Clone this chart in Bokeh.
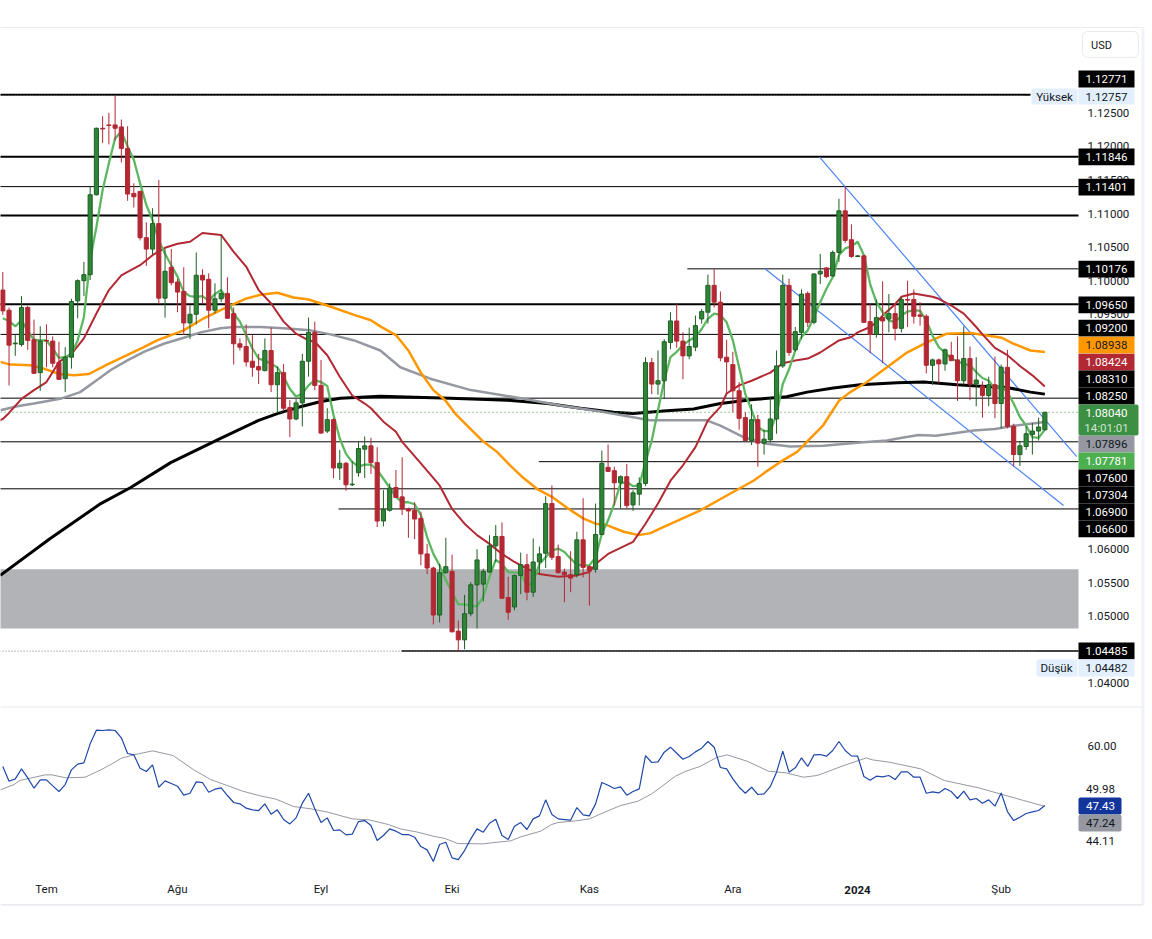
from bokeh.plotting import figure
from bokeh.layouts import column
from bokeh.models import (Range1d, FixedTicker, LinearAxis, Label, BoxAnnotation,
                          ColumnDataSource, NumeralTickFormatter)
from bokeh.embed import file_html
from bokeh.resources import INLINE

opens = [
1.0986,1.0956,1.0906,1.0905,1.0960,1.0912,1.0863,1.0911,1.0910,1.0878,
1.0854,1.0886,1.0970,1.1000,1.1009,1.1128,1.1227,1.1232,1.1232,1.1229,
1.1197,1.1130,1.1133,1.1064,1.1047,1.1085,1.0974,1.1020,1.0998,1.0984,
1.0937,1.0950,1.1008,1.1002,1.0956,1.0973,1.0981,1.0951,1.0906,1.0902,
1.0880,1.0872,1.0866,1.0896,1.0845,1.0863,1.0811,1.0794,1.0818,1.0880,
1.0923,1.0844,1.0776,1.0793,1.0721,1.0728,1.0696,1.0714,1.0749,1.0754,
1.0729,1.0642,1.0658,1.0692,1.0678,1.0660,1.0658,1.0646,1.0593,1.0572,
1.0502,1.0565,1.0567,1.0478,1.0465,1.0504,1.0547,1.0548,1.0566,1.0605,
1.0619,1.0528,1.0514,1.0561,1.0577,1.0536,1.0581,1.0594,1.0668,1.0589,
1.0566,1.0562,1.0562,1.0614,1.0574,1.0570,1.0622,1.0722,1.0717,1.0699,
1.0708,1.0666,1.0682,1.0698,1.0878,1.0846,1.0851,1.0908,1.0940,1.0910,
1.0888,1.0901,1.0943,1.0953,1.0993,1.0968,1.0886,1.0875,1.0836,1.0796,
1.0762,1.0793,1.0758,1.0763,1.0794,1.0873,1.0993,1.0897,1.0923,1.0981,
1.0938,1.1010,1.1019,1.1007,1.1042,1.1104,1.1061,1.1036,1.1037,1.0939,
1.0920,1.0945,1.0943,1.0951,1.0929,1.0972,1.0972,1.0949,1.0947,1.0874,
1.0882,1.0876,1.0889,1.0882,1.0851,1.0884,1.0846,1.0843,1.0829,1.0845,
1.0817,1.0871,1.0783,1.0741,1.0753,1.0771,1.0776,1.0778]
closes = [
1.0955,1.0904,1.0907,1.0960,1.0911,1.0862,1.0910,1.0910,1.0877,1.0853,
1.0886,1.0969,1.1000,1.1009,1.1128,1.1227,1.1226,1.1231,1.1227,1.1197,
1.1129,1.1125,1.1064,1.1047,1.1085,1.0974,1.1014,1.0997,1.0983,1.0937,
1.0950,1.1008,1.1001,1.0956,1.0973,1.0981,1.0944,1.0906,1.0901,1.0879,
1.0871,1.0867,1.0896,1.0845,1.0863,1.0810,1.0794,1.0818,1.0880,1.0923,
1.0844,1.0773,1.0793,1.0721,1.0728,1.0696,1.0697,1.0750,1.0754,1.0729,
1.0642,1.0659,1.0691,1.0677,1.0660,1.0657,1.0645,1.0593,1.0572,1.0502,
1.0565,1.0574,1.0477,1.0465,1.0504,1.0547,1.0584,1.0567,1.0605,1.0619,
1.0527,1.0506,1.0561,1.0577,1.0536,1.0581,1.0593,1.0668,1.0588,1.0565,
1.0562,1.0557,1.0614,1.0573,1.0568,1.0622,1.0728,1.0716,1.0699,1.0708,
1.0665,1.0684,1.0698,1.0878,1.0846,1.0851,1.0909,1.0940,1.0910,1.0888,
1.0902,1.0933,1.0954,1.0993,1.0968,1.0885,1.0879,1.0836,1.0795,1.0762,
1.0793,1.0758,1.0764,1.0794,1.0873,1.0993,1.0893,1.0924,1.0980,1.0938,
1.1010,1.1014,1.1006,1.1042,1.1104,1.1060,1.1036,1.1037,1.0938,1.0920,
1.0945,1.0940,1.0951,1.0929,1.0972,1.0971,1.0947,1.0947,1.0874,1.0882,
1.0876,1.0897,1.0881,1.0851,1.0884,1.0846,1.0852,1.0829,1.0845,1.0817,
1.0871,1.0783,1.0741,1.0754,1.0772,1.0776,1.0782,1.0804]
highs = [
1.1013,1.0960,1.0919,1.0977,1.0963,1.0942,1.0932,1.0935,1.0917,1.0909,
1.0901,1.0973,1.1002,1.1028,1.1140,1.1228,1.1245,1.1250,1.12757,1.1240,
1.1230,1.1145,1.1134,1.1087,1.1108,1.1150,1.1047,1.1047,1.1003,1.1020,
1.0963,1.1042,1.1017,1.1011,1.0996,1.1067,1.1005,1.0960,1.0914,1.0935,
1.0919,1.0891,1.0914,1.0930,1.0872,1.0876,1.0822,1.0824,1.0891,1.0945,
1.0939,1.0882,1.0810,1.0795,1.0748,1.0730,1.0731,1.0760,1.0768,1.0766,
1.0752,1.0688,1.0698,1.0718,1.0737,1.0662,1.0670,1.0656,1.0608,1.0574,
1.0578,1.0617,1.0592,1.0494,1.0532,1.0551,1.0600,1.0571,1.0621,1.0636,
1.0640,1.0559,1.0562,1.0595,1.0593,1.0616,1.0604,1.0679,1.0695,1.0607,
1.0571,1.0597,1.0626,1.0676,1.0576,1.0668,1.0747,1.0756,1.0723,1.0710,
1.0727,1.0688,1.0707,1.0886,1.0885,1.0896,1.0913,1.0953,1.0966,1.0923,
1.0930,1.0948,1.0958,1.1009,1.1017,1.0984,1.0912,1.0894,1.0849,1.0804,
1.0816,1.0800,1.0778,1.0826,1.0896,1.1009,1.1003,1.0931,1.0987,1.0984,
1.1011,1.1040,1.1020,1.1045,1.1122,1.1140,1.1084,1.1038,1.1038,1.0966,
1.0972,1.0999,1.0980,1.0966,1.0976,1.1000,1.0987,1.0968,1.0950,1.0884,
1.0884,1.0899,1.0909,1.0917,1.0932,1.0902,1.0886,1.0850,1.0857,1.0887,
1.0875,1.0897,1.0787,1.0761,1.0783,1.0788,1.0796,1.0804]
lows = [
1.0949,1.0844,1.0888,1.0902,1.0897,1.0861,1.0836,1.0871,1.0871,1.0852,
1.0834,1.0869,1.0944,1.0977,1.1001,1.1127,1.1205,1.1203,1.1209,1.1176,
1.1119,1.1109,1.1060,1.1022,1.1039,1.0966,1.0945,1.0993,1.0953,1.0919,
1.0913,1.0935,1.0965,1.0929,1.0951,1.0968,1.0943,1.0875,1.0896,1.0872,
1.0857,1.0846,1.0865,1.0834,1.0804,1.0806,1.0767,1.0792,1.0783,1.0857,
1.0837,1.0772,1.0773,1.0706,1.0703,1.0687,1.0694,1.0708,1.0706,1.0712,
1.0633,1.0634,1.0656,1.0677,1.0651,1.0617,1.0615,1.0576,1.0563,1.0488,
1.0491,1.0564,1.0476,1.04482,1.0451,1.0500,1.0482,1.0522,1.0565,1.0581,
1.0526,1.0495,1.0509,1.0533,1.0524,1.0529,1.0564,1.0572,1.0584,1.0564,
1.0521,1.0536,1.0558,1.0558,1.0516,1.0565,1.0621,1.0715,1.0665,1.0660,
1.0660,1.0657,1.0665,1.0694,1.0831,1.0830,1.0824,1.0898,1.0900,1.0853,
1.0883,1.0895,1.0936,1.0936,1.0960,1.0880,1.0831,1.0804,1.0778,1.0761,
1.0755,1.0723,1.0741,1.0759,1.0772,1.0870,1.0888,1.0894,1.0913,1.0931,
1.0935,1.0995,1.1004,1.1006,1.1028,1.1056,1.1034,1.1035,1.0937,1.0892,
1.0915,1.0877,1.0923,1.0911,1.0923,1.0931,1.0936,1.0933,1.0862,1.0845,
1.0847,1.0866,1.0880,1.0821,1.0845,1.0822,1.0813,1.0796,1.0813,1.0795,
1.0780,1.0780,1.0723,1.0724,1.0748,1.0741,1.0762,1.0777]

ma_green = [
1.0944,1.0940,1.0932,1.0941,1.0925,1.0912,1.0911,1.0911,1.0899,1.0885,
1.0886,1.0891,1.0911,1.0946,1.1031,1.1080,1.1135,1.1175,1.1212,1.1222,
1.1200,1.1180,1.1145,1.1113,1.1090,1.1060,1.1040,1.1023,1.1006,1.0983,
1.0977,1.0976,1.0977,1.0970,1.0980,1.0986,1.0972,1.0951,1.0939,1.0919,
1.0899,1.0884,1.0881,1.0876,1.0871,1.0857,1.0839,1.0827,1.0832,1.0844,
1.0852,1.0849,1.0843,1.0800,1.0765,1.0742,1.0730,1.0723,1.0726,1.0726,
1.0718,1.0705,1.0692,1.0678,1.0670,1.0670,1.0667,1.0651,1.0618,1.0593,
1.0576,1.0554,1.0536,1.0518,1.0518,1.0516,1.0515,1.0529,1.0559,1.0584,
1.0578,1.0566,1.0565,1.0565,1.0544,1.0551,1.0578,1.0588,1.0598,1.0601,
1.0596,1.0586,1.0577,1.0576,1.0576,1.0588,1.0623,1.0643,1.0668,1.0698,
1.0700,1.0694,1.0695,1.0730,1.0762,1.0807,1.0851,1.0886,1.0894,1.0904,
1.0911,1.0916,1.0928,1.0943,1.0951,1.0949,1.0938,1.0911,1.0871,1.0831,
1.0807,1.0782,1.0776,1.0776,1.0801,1.0846,1.0868,1.0896,1.0916,1.0926,
1.0946,1.0968,1.0988,1.1005,1.1038,1.1048,1.1051,1.1058,1.1038,1.0995,
1.0968,1.0953,1.0941,1.0938,1.0948,1.0954,1.0956,1.0955,1.0941,1.0918,
1.0901,1.0893,1.0884,1.0880,1.0876,1.0874,1.0864,1.0855,1.0851,1.0839,
1.0844,1.0834,1.0817,1.0797,1.0784,1.0767,1.0766,1.07781]

ma_red_bar = [-1,0,1,3,5,7,9,11,13,15,17,19,20,22,24,26,28,30,32,35,37,39,41,43,45,47,49,50,52,54,56,
 58,59,61,63,64,67,70,72,74,76,78,80,82,84,86,89,92,94,95,97,101,103,105,107,109,111,113,115,116,118,120,
 123,125,127,129,131,134,136,137,139,140,141,143,144,146,149,150,152,154,156,157,159,161,163,165,167]
ma_red = [1.0789,1.0794,1.0803,1.0824,1.0837,1.0849,1.0879,1.0891,1.0914,1.0951,1.0986,1.1008,1.1013,1.1023,1.1038,1.1049,1.1055,1.1058,1.1071,1.1068,1.1043,1.1021,1.0986,1.0966,1.0939,1.0921,1.0911,1.0909,1.0889,1.0857,1.0829,
 1.0817,1.0810,1.0790,1.0775,1.0760,1.0728,1.0695,1.0660,1.0638,1.0621,1.0608,1.0593,1.0581,1.0571,1.0563,1.0559,1.0561,1.0566,1.0578,1.0593,1.0611,1.0638,1.0668,1.0702,1.0725,1.0752,1.0792,1.0812,1.0832,1.0844,1.0851,
 1.0863,1.0877,1.0881,1.0884,1.0893,1.0911,1.0916,1.0923,1.0931,1.0938,1.0948,1.0965,1.0976,1.0981,1.0976,1.0973,1.0963,1.0951,1.0931,1.0920,1.0900,1.0889,1.0873,1.0859,1.08424]

ma_orange_bar = [-0.4,1.2,4.4,6.6,9,11.4,13.8,16.7,19.9,22.6,24.7,29,32.2,34.9,37,38.9,41.3,44,46.6,49,52,56.3,59,60.5,63,65,67,69,
 70.9,72.5,74.1,76.8,79.2,81.3,83.2,85.6,88,90.7,93,95,96.8,99.5,101.9,103.8,105.4,111.8,116.6,120.3,122.4,124.6,127.3,129.4,131.5,
 134,135.8,138.5,141.7,144.9,148.1,151.3,155.1,160.1,162,164.7,167]
ma_orange = [1.0879,1.0875,1.0874,1.0869,1.0861,1.0859,1.0861,1.0875,1.0889,1.0901,1.0911,1.0926,1.0944,1.0956,1.0965,1.0973,1.0979,1.0982,1.0975,1.0972,1.0963,1.0949,1.0941,1.0932,1.0919,1.0896,1.0863,1.0837,
 1.0822,1.0802,1.0787,1.0762,1.0745,1.0725,1.0708,1.0690,1.0678,1.0660,1.0646,1.0638,1.0636,1.0626,1.0621,1.0624,1.0631,1.0658,1.0683,1.0702,1.0716,1.0730,1.0745,1.0765,1.0785,
 1.0821,1.0834,1.0849,1.0871,1.0893,1.0908,1.0921,1.0922,1.0915,1.0906,1.0896,1.08938]

ma_gray_bar = [-0.4,2.3,5,9.2,12.4,15.1,17.3,19.9,22.6,25.8,29,31.7,34.9,37,41.3,45,49.3,52.5,56.3,60.5,63.7,68.5,75,83,89.4,95.8,99,103.7,108,112.8,115,118.7,122.4,126.2,131.5,137.4,141.7,144.1,146.8,149.5,151.9,155.6,159,162,167]
ma_gray = [1.0807,1.0813,1.0817,1.0824,1.0834,1.0852,1.0867,1.0881,1.0894,1.0906,1.0915,1.0923,1.0929,1.0931,1.0931,1.0929,1.0926,1.0920,1.0911,1.0896,1.0871,1.0854,1.0837,1.0825,1.0814,1.0805,1.0800,1.0792,1.0792,1.0792,1.0784,1.0767,1.0757,1.0753,1.0754,1.0759,1.0762,1.0766,1.0770,1.0769,1.0772,1.0777,1.0779,1.0784,1.07896]

ma_black_bar = [-0.4,7.6,15.7,20.5,26.9,34.9,41,44,47.2,51,54.1,60.5,71.7,80.9,87.3,92.6,97.9,101,105.9,110.7,115,120.3,125.6,128.9,133.1,137.4,143.3,147.6,152.9,156.1,160.9,164.7,167]
ma_black = [1.0561,1.0616,1.0668,1.0692,1.0729,1.0765,1.0792,1.0802,1.0811,1.0820,1.0825,1.0828,1.0825,1.0822,1.0817,1.0810,1.0804,1.0802,1.0806,1.0809,1.0817,1.0823,1.0827,1.0834,1.0840,1.0845,1.0848,1.0849,1.0845,1.0843,1.0841,1.0834,1.0831]

level_prices = [1.12771,1.11846,1.11401,1.10970,1.10176,1.09650,1.09200,1.08250,1.07600,1.07304,1.06900,1.06600,1.04485]
level_from   = [-1,-1,-1,-1,109.7,-1,-1,-1,-1,85.9,-1,53.8,63.9]
level_to     = [164.7,173,173,173,173,173,173,173,173,173,173,173,173]
level_width  = [2,2,1,2,1,2,1,1,1,1,1,1,1.5]

trend_x0 = [130.9,122.1]
trend_y0 = [1.1184,1.1018]
trend_x1 = [172.1,170.0]
trend_y1 = [1.0738,1.0665]

zone_top, zone_bottom = 1.0570, 1.0482
last_price = 1.08040
high_price, low_price = 1.12757, 1.04482

rsi = [
55.60,52.52,53.01,55.11,53.22,51.05,52.80,52.80,51.54,50.35,
51.82,54.90,56.09,56.37,60.35,63.22,63.15,63.29,63.15,61.61,
58.32,58.04,55.25,54.55,55.95,51.26,52.59,52.03,51.47,49.59,
50.00,52.38,52.24,50.21,50.84,51.12,49.52,48.05,47.77,46.86,
46.51,46.37,47.77,45.60,46.51,44.48,43.57,44.83,47.91,50.00,
46.72,43.85,44.83,42.18,42.32,41.27,41.41,44.06,44.27,43.22,
40.08,41.13,42.53,42.04,41.34,41.34,40.78,38.82,38.12,35.68,
39.24,39.73,36.44,36.09,37.98,40.43,42.53,41.83,43.71,44.55,
41.13,40.29,43.08,43.85,42.39,44.62,45.25,48.61,45.53,44.62,
44.48,44.34,47.00,45.46,45.25,47.77,52.24,51.68,50.98,51.33,
49.59,50.35,50.91,57.90,56.44,56.58,58.60,59.65,58.39,57.13,
57.69,58.67,59.44,60.84,59.65,55.39,55.11,53.01,51.26,50.00,
51.26,49.73,49.86,51.40,54.41,58.81,54.41,55.32,57.41,55.60,
58.04,58.11,57.76,58.95,60.84,58.95,57.83,57.76,53.50,52.73,
53.57,53.43,53.71,52.87,54.48,54.48,53.36,53.36,50.00,50.28,
50.07,50.98,50.35,48.89,50.42,48.61,48.89,47.91,48.61,47.28,
50.07,46.16,44.27,44.97,45.74,46.09,46.37,47.43]

rsi_ma_bar = [-0.4,1.8,2.7,4.6,6.8,7.9,10.1,13.2,15.7,17.3,19,21.2,24,27.3,30.6,33.3,36.7,38.3,41,43.8,46.6,49.4,52.1,56,58.7,61.8,63.7,66.5,69,70.9,72.9,77,79.2,81.4,83,86.2,
 87.9,89,91.8,94,96.2,99,101.8,104,107.8,109.5,111.7,114.5,116.1,119.4,122.7,125.5,128.3,130.5,134.8,138.4,139.3,142.1,147.1,150.9,156.4,159.8,163.6,167]
rsi_ma = [50.70,51.82,52.66,53.22,53.85,53.85,53.22,53.36,54.90,56.02,57.34,58.11,58.88,57.90,54.90,52.87,51.26,50.49,49.52,48.75,47.21,46.72,46.02,44.62,44.41,43.43,42.53,41.83,40.99,40.50,39.45,39.38,39.73,40.01,40.85,42.04,
 43.43,43.85,44.20,44.62,45.88,47.42,48.33,49.87,53.57,54.62,55.60,57.55,58.04,56.65,54.62,54.27,53.36,53.71,55.81,57.41,57.00,56.50,55.11,52.66,51.12,49.87,48.47,47.24]

month_bars = [7,28,51,72,94,117,160]
month_names = ["Tem","Ağu","Eyl","Eki","Kas","Ara","Şub"]
year_name = "2024"

price_ticks = [1.04,1.05,1.055,1.06,1.095,1.10,1.105,1.11,1.115,1.12,1.125]
rsi_ticks = [60.0]

# (text, colour of box, colour of text, centre y on the canvas)
price_tags = [
 ("1.12771","#000000","#ffffff",78.5),("1.11846","#000000","#ffffff",156.3),("1.11401","#000000","#ffffff",186.7),
 ("1.10176","#000000","#ffffff",268.7),("1.09650","#000000","#ffffff",304.3),("1.09200","#000000","#ffffff",327.6),
 ("1.08938","#ff9800","#131722",344.6),("1.08424","#b22833","#ffffff",361.6),("1.08310","#000000","#ffffff",378.5),
 ("1.08250","#000000","#ffffff",395.5),("1.07896","#9598a1","#131722",443.5),("1.07781","#4caf50","#ffffff",460.5),
 ("1.07600","#000000","#ffffff",477.5),("1.07304","#000000","#ffffff",494.5),("1.06900","#000000","#ffffff",511.5),
 ("1.06600","#000000","#ffffff",528.4),("1.04485","#000000","#ffffff",650.3),
]

FONT = "Roboto"
W, H1, H2 = 1152, 707, 232
GREEN, GREEN_EDGE, RED = "#2e8537", "#1f5f24", "#b22833"

xr = Range1d(-0.3686, 172.39)
p = figure(width=W, height=H1, x_range=xr, y_range=Range1d(1.036425, 1.13771),
           output_backend="svg", toolbar_location=None, x_axis_type=None, y_axis_type=None,
           min_border_left=0, min_border_right=74, min_border_top=27, min_border_bottom=0,
           outline_line_color=None, background_fill_color="white", border_fill_color="white")
p.grid.visible = False

ax = LinearAxis(ticker=FixedTicker(ticks=price_ticks), formatter=NumeralTickFormatter(format="0.00000"))
ax.axis_line_color = None; ax.major_tick_line_color = None; ax.minor_tick_line_color = None
ax.major_label_text_font = FONT; ax.major_label_text_font_size = "11.5px"
ax.major_label_text_color = "#131722"; ax.major_label_standoff = 3
p.add_layout(ax, "right")

bars = list(range(len(opens)))
up = [c >= o_ for o_, c in zip(opens, closes)]
src = ColumnDataSource(dict(x=bars, o=opens, c=closes, h=highs, l=lows,
    fill=[GREEN if u else RED for u in up], edge=[GREEN_EDGE if u else RED for u in up],
    wick=[GREEN_EDGE if u else RED for u in up]))

p.quad(left=-1, right=173, bottom=zone_bottom, top=zone_top, fill_color="#b2b3b7", line_color=None)
lsrc = ColumnDataSource(dict(a=level_from, b=level_to, y=level_prices, w=level_width))
p.segment("a", "y", "b", "y", source=lsrc, line_color="#000000", line_width="w")
p.segment(x0=trend_x0, x1=trend_x1, y0=trend_y0, y1=trend_y1, line_color="#4d84f5", line_width=1.2)
p.line(ma_black_bar, ma_black, line_color="#000000", line_width=3)
p.line(ma_gray_bar, ma_gray, line_color="#9598a1", line_width=2.5)
p.line(ma_orange_bar, ma_orange, line_color="#ff9800", line_width=2.5)
p.line(ma_red_bar, ma_red, line_color="#b22833", line_width=2)
p.line(bars, ma_green, line_color="#5cb860", line_width=2.3)
p.line([-1, 173], [last_price, last_price], line_color="#388e3c", line_dash=[1, 3], line_width=1)
p.line([-1, 163.5], [high_price, high_price], line_color="#787b86", line_dash=[1, 2], line_width=1)
p.line([-1, 165.5], [low_price, low_price], line_color="#787b86", line_dash=[1, 2], line_width=1)
p.segment("x", "h", "x", "l", source=src, line_color="wick", line_width=1)
p.vbar("x", 0.66, "o", "c", source=src, fill_color="fill", line_color="edge", line_width=1)

q = figure(width=W, height=H2, x_range=xr, y_range=Range1d(32.75, 67.97),
           output_backend="svg", toolbar_location=None, x_axis_type=None, y_axis_type=None,
           min_border_left=0, min_border_right=74, min_border_top=0, min_border_bottom=64,
           outline_line_color=None, background_fill_color="white", border_fill_color="white")
q.grid.visible = False
ax2 = LinearAxis(ticker=FixedTicker(ticks=rsi_ticks), formatter=NumeralTickFormatter(format="0.00"))
ax3 = LinearAxis(ticker=FixedTicker(ticks=month_bars),
                 major_label_overrides=dict(zip(month_bars, month_names)))
for a, gap in [(ax2, 3), (ax3, 0)]:
    a.axis_line_color = None; a.major_tick_line_color = None; a.minor_tick_line_color = None
    a.major_label_text_font = FONT; a.major_label_text_font_size = "11.5px"
    a.major_label_text_color = "#131722"; a.major_label_standoff = gap
q.add_layout(ax2, "right")
q.add_layout(ax3, "below")
q.line(rsi_ma_bar, rsi_ma, line_color="#9598a1", line_width=1)
q.line(bars, rsi, line_color="#1e47a8", line_width=1.2)

# Transparent sheet over both panes: the labels of the price scale sit outside the frames.
o = figure(width=W, height=H1 + H2, x_range=Range1d(0, W), y_range=Range1d(H1 + H2, 0),
           output_backend="svg", toolbar_location=None, x_axis_type=None, y_axis_type=None,
           min_border=0, outline_line_color=None, background_fill_color=None, border_fill_color=None)
o.grid.visible = False
o.styles = {"position": "absolute", "left": "0px", "top": "0px"}

def box(x0, x1, y0, y1, color, line=None, radius=0):
    o.add_layout(BoxAnnotation(left=x0, right=x1, top=y0, bottom=y1,
                      left_units="canvas", right_units="canvas", top_units="canvas", bottom_units="canvas",
                      fill_color=color, fill_alpha=1, line_color=line, line_alpha=1,
                      border_radius=radius, editable=False))

def tag(text, x, y, color, size="11.5px", style="normal"):
    o.add_layout(Label(x=x, y=y, x_units="canvas", y_units="canvas", text=text, text_color=color,
                       text_font=FONT, text_font_size=size, text_align="center",
                       text_baseline="middle", text_font_style=style))

for text, fill, ink, yc in price_tags:
    box(1078, 1134, yc - 8.4, yc + 8.4, fill)
    tag(text, 1106, yc, ink)

box(1078, 1138, 404, 435, "#3d8f43", radius=2)
tag("1.08040", 1106, 412, "#ffffff")
tag("14:01:01", 1106, 427, "#cfe5d0")
box(1031, 1077, 88, 104, "#e3effd", radius=2)
box(1078, 1134, 88, 104, "#e3effd")
tag("Yüksek", 1054, 96, "#131722")
tag("1.12757", 1106, 96, "#131722")
box(1036, 1077, 659, 676, "#e3effd", radius=2)
box(1078, 1134, 659, 676, "#e3effd")
tag("Düşük", 1056, 667, "#131722")
tag("1.04482", 1106, 667, "#131722")
box(1082, 1138, 31, 57, "#ffffff", line="#e8eaf0", radius=5)
tag("USD", 1101, 45, "#131722", size="11px")
box(0, 1142, 26.5, 27.5, "#e8eaf0")
box(1141, 1144, 27, 905, "#f0f3fa")
box(0, 1142, 706, 707, "#e8eaf0")
box(0, 1142, 903.5, 905, "#e8eaf0")
box(1078, 1121, 797, 814, "#12359c", radius=2)
tag("47.43", 1100, 805.5, "#ffffff")
box(1078, 1121, 814, 831, "#9598a1", radius=2)
tag("47.24", 1100, 822.5, "#131722")
tag("49.98", 1100, 788.5, "#131722")
tag("44.11", 1100, 840, "#131722")
tag(year_name, 857, 889, "#131722", style="bold")

root = column(p, q, spacing=0)
root.styles = {"position": "absolute", "left": "0px", "top": "0px"}
open("out.html", "w").write(file_html([root, o], INLINE))
